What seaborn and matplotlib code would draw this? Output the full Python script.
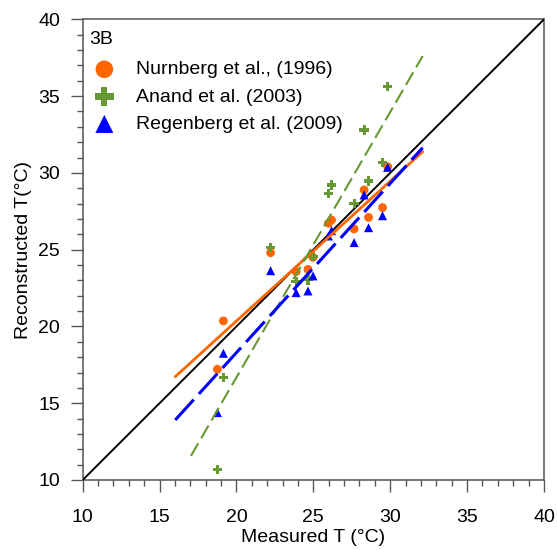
import numpy as np
import pandas as pd
import matplotlib
matplotlib.use("Agg")
import matplotlib.pyplot as plt
import seaborn as sns
from matplotlib.ticker import MultipleLocator

# ---- data ----
measured = [18.76, 19.15, 22.22, 23.88, 24.65, 24.98, 25.98, 26.18, 27.65, 28.30, 28.59, 29.50, 29.83]
nurnberg = [17.21, 20.36, 24.80, 23.57, 23.72, 24.50, 26.72, 26.93, 26.35, 28.89, 27.10, 27.74, 30.40]
anand    = [10.70, 16.67, 25.16, 22.92, 23.03, 24.55, 28.67, 29.21, 28.00, 32.79, 29.47, 30.66, 35.61]
regenberg = [14.39, 18.25, 23.63, 22.20, 22.31, 23.29, 25.89, 26.24, 25.46, 28.56, 26.43, 27.21, 30.36]

# regression line end points
nurnberg_fit_x = [16.02, 32.11]
nurnberg_fit_y = [16.73, 31.38]
anand_fit_x = [17.04, 32.11]
anand_fit_y = [11.57, 37.61]
regenberg_fit_x = [16.02, 32.11]
regenberg_fit_y = [13.91, 31.64]
one_to_one = [10, 40]

labels = ["Nurnberg et al., (1996)", "Anand et al. (2003)", "Regenberg et al. (2009)"]
colors = ["#FF6600", "#669933", "#0000FF"]
panel_label = "3B"

sns.set_style("ticks")
plt.rcParams["font.family"] = ["Liberation Sans", "DejaVu Sans"]
plt.rcParams["text.color"] = "black"
plt.rcParams["axes.labelcolor"] = "black"
plt.rcParams["xtick.labelcolor"] = "black"
plt.rcParams["ytick.labelcolor"] = "black"

fig = plt.figure(figsize=(5.57, 5.50), dpi=100)
ax = fig.add_axes([82.7 / 557, 70 / 550, (544 - 82.7) / 557, (480 - 19.3) / 550])

# 1:1 line
sns.lineplot(x=one_to_one, y=one_to_one, color="black", lw=1.4, ax=ax, zorder=3)

# scatter points
sns.scatterplot(x=measured, y=nurnberg, color=colors[0], marker="o", s=40,
                edgecolor="none", label=labels[0], ax=ax, zorder=4)
sns.scatterplot(x=measured, y=anand, color=colors[1], marker="P", s=45,
                edgecolor="none", label=labels[1], ax=ax, zorder=4)
sns.scatterplot(x=measured, y=regenberg, color=colors[2], marker="^", s=42,
                edgecolor="none", label=labels[2], ax=ax, zorder=4)

# regression lines
sns.lineplot(x=nurnberg_fit_x, y=nurnberg_fit_y, color=colors[0], lw=2.0, ax=ax, zorder=5)
sns.lineplot(x=anand_fit_x, y=anand_fit_y, color=colors[1], lw=1.5, ax=ax, zorder=5)
ax.lines[-1].set_dashes([7, 2.8])
sns.lineplot(x=regenberg_fit_x, y=regenberg_fit_y, color=colors[2], lw=2.2, ax=ax, zorder=5)
ax.lines[-1].set_dashes([9, 2.5])

ax.set_xlim(10, 40)
ax.set_ylim(10, 40)
ax.xaxis.set_major_locator(MultipleLocator(5))
ax.yaxis.set_major_locator(MultipleLocator(5))
ax.xaxis.set_minor_locator(MultipleLocator(1))
ax.yaxis.set_minor_locator(MultipleLocator(1))
ax.tick_params(which="major", length=8.4, width=1, color="#555555", labelsize=14,
               direction="out", labelcolor="black")
ax.tick_params(axis="x", which="major", pad=12.5)
ax.tick_params(axis="y", which="major", pad=8)
ax.tick_params(which="minor", length=4.3, width=1, color="#555555", direction="out")
for s in ax.spines.values():
    s.set_color("#555555")
    s.set_linewidth(1.1)

ax.set_xlabel("Measured T (°C)", fontsize=14, labelpad=2.5, color="black")
ax.set_ylabel("Reconstructed T(°C)", fontsize=14, labelpad=4, color="black")

ax.text(0.0143, 0.9566, panel_label, transform=ax.transAxes, fontsize=14,
        ha="left", va="center", color="black")

leg = ax.legend(loc="upper left", bbox_to_anchor=(0.0195, 0.910), frameon=False,
                fontsize=14, markerscale=2.0, handletextpad=1.0, borderaxespad=0,
                borderpad=0, labelspacing=0.5, handlelength=1.3)
for t in leg.get_texts():
    t.set_color("black")

fig.savefig("out.png", dpi=100)
